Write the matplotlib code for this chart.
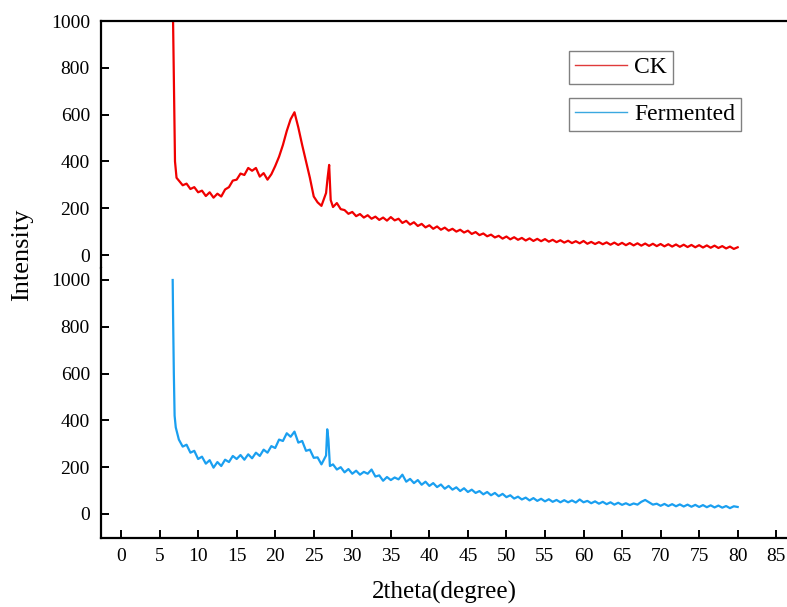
import matplotlib
matplotlib.use("Agg")
import matplotlib.pyplot as plt
import numpy as np

plt.rcParams['font.family'] = ['Liberation Serif', 'DejaVu Serif']

# CK (upper trace)
ck_start_x = [6.75, 6.8, 6.9, 7.0, 7.2]
ck_start_y = [1000, 880, 620, 400, 330]
ck_body1_y = [318, 298, 305, 282, 290, 268, 275, 252, 268, 245,   # 7.5 - 12.0
              262, 250, 280, 290, 318, 322, 348, 342, 372, 360,   # 12.5 - 17.0
              372, 335, 350, 322, 345, 380, 420, 470, 530, 580,   # 17.5 - 22.0
              610, 545, 470, 400, 330, 250, 225, 210]             # 22.5 - 26.0
ck_spike_x = [26.6, 26.8, 27.0, 27.2]
ck_spike_y = [265, 330, 385, 235]
ck_body2_y = [205, 222, 196, 192, 176, 184, 166, 175, 160, 170,   # 27.5 - 32.0
              155, 164, 150, 160, 147, 162, 148, 155, 137, 146,   # 32.5 - 37.0
              130, 140, 124, 133, 118, 127, 112, 122, 108, 117,   # 37.5 - 42.0
              104, 112, 100, 108, 96, 104, 90, 98, 85, 92,        # 42.5 - 47.0
              80, 87, 75, 82, 70, 79, 67, 76, 65, 73,             # 47.5 - 52.0
              62, 71, 60, 69, 59, 68, 57, 65, 55, 63,             # 52.5 - 57.0
              53, 61, 51, 59, 50, 60, 48, 56, 47, 55,             # 57.5 - 62.0
              46, 54, 44, 53, 43, 52, 42, 51, 41, 50,             # 62.5 - 67.0
              40, 49, 39, 48, 38, 47, 37, 46, 36, 45,             # 67.5 - 72.0
              35, 44, 34, 43, 33, 42, 32, 41, 31, 40,             # 72.5 - 77.0
              30, 38, 28, 36, 26, 33]                             # 77.5 - 80.0

# Fermented (lower trace)
fe_start_x = [6.7, 6.75, 6.85, 6.95, 7.1]
fe_start_y = [1000, 850, 600, 420, 370]
fe_body1_y = [318, 288, 296, 262, 270, 235, 245, 215, 230, 198,   # 7.5 - 12.0
              222, 205, 232, 222, 248, 235, 252, 232, 255, 238,   # 12.5 - 17.0
              262, 248, 275, 262, 290, 282, 318, 312, 345, 330,   # 17.5 - 22.0
              352, 305, 312, 270, 275, 240, 242, 212]             # 22.5 - 26.0
fe_spike_x = [26.6, 26.75, 26.9, 27.1]
fe_spike_y = [250, 362, 320, 205]
fe_body2_y = [212, 190, 200, 178, 192, 172, 185, 168, 180, 172,   # 27.5 - 32.0
              190, 160, 165, 142, 158, 145, 156, 148, 168, 138,   # 32.5 - 37.0
              150, 132, 145, 125, 138, 120, 132, 115, 126, 108,   # 37.5 - 42.0
              120, 104, 114, 98, 110, 94, 104, 90, 98, 84,        # 42.5 - 47.0
              94, 80, 90, 76, 86, 72, 80, 66, 74, 62,             # 47.5 - 52.0
              70, 58, 68, 56, 65, 54, 63, 52, 60, 50,             # 52.5 - 57.0
              59, 50, 58, 49, 62, 50, 56, 46, 54, 44,             # 57.5 - 62.0
              52, 42, 50, 40, 48, 39, 46, 38, 45, 40,             # 62.5 - 67.0
              52, 60, 50, 40, 44, 35, 43, 34, 42, 33,             # 67.5 - 72.0
              41, 32, 40, 31, 39, 30, 38, 29, 37, 28,             # 72.5 - 77.0
              36, 27, 34, 25, 33, 30]                             # 77.5 - 80.0

grid1 = np.arange(7.5, 26.01, 0.5)
grid2 = np.arange(27.5, 80.01, 0.5)

ck_x = np.concatenate([ck_start_x, grid1, ck_spike_x, grid2])
ck_y = np.concatenate([ck_start_y, ck_body1_y, ck_spike_y, ck_body2_y])
fe_x = np.concatenate([fe_start_x, grid1, fe_spike_x, grid2])
fe_y = np.concatenate([fe_start_y, fe_body1_y, fe_spike_y, fe_body2_y])

x_ticks = np.arange(0, 86, 5)
y_ticks = [0, 200, 400, 600, 800, 1000]

W, H = 787, 607
fig = plt.figure(figsize=(W / 100, H / 100), dpi=100)
left = 101 / W
right = 1.0
split = 1 - 267.5 / H
ax_top = fig.add_axes([left, split, right - left, (1 - 21 / H) - split])
ax_bot = fig.add_axes([left, 1 - 538 / H, right - left, split - (1 - 538 / H)])

ax_top.plot(ck_x, ck_y, color='#f00000', lw=1.6)
ax_bot.plot(fe_x, fe_y, color='#1a9ff0', lw=1.6)

for ax in (ax_top, ax_bot):
    ax.set_xlim(-2.6, 86.4)
    ax.set_yticks(y_ticks)
    ax.spines['right'].set_visible(False)
    ax.spines['left'].set_linewidth(1.6)
    ax.tick_params(axis='both', direction='in', length=6, width=1.4,
                   labelsize=14, pad=8)

ax_top.set_ylim(-53.4, 1000)
ax_top.spines['bottom'].set_visible(False)
ax_top.spines['top'].set_linewidth(1.6)
ax_top.tick_params(axis='x', bottom=False, labelbottom=False)

ax_bot.set_ylim(-102.6, 1053.4)
ax_bot.spines['top'].set_visible(False)
ax_bot.spines['bottom'].set_linewidth(1.6)
ax_bot.set_xticks(x_ticks)
ax_bot.tick_params(axis='x', pad=7)

ax_bot.set_xlabel('2theta(degree)', fontsize=18, labelpad=12)
fig.text(22 / W, 1 - 255 / H, 'Intensity', rotation=90, fontsize=19,
         ha='center', va='center')

leg_kw = dict(loc='upper left', bbox_transform=fig.transFigure, fontsize=17,
              frameon=True, fancybox=False, framealpha=1, edgecolor='#808080',
              borderaxespad=0, borderpad=0.25, handlelength=2.2,
              handletextpad=0.3)
h_ck, = ax_top.plot([], [], color='#e03a3a', lw=1)
h_fe, = ax_top.plot([], [], color='#3aa8e0', lw=1)
leg1 = ax_top.legend(handles=[h_ck], labels=['CK'],
                     bbox_to_anchor=(569 / W, 1 - 51 / H), **leg_kw)
leg1.get_frame().set_linewidth(1)
ax_top.add_artist(leg1)
leg2 = ax_top.legend(handles=[h_fe], labels=['Fermented'],
                     bbox_to_anchor=(569 / W, 1 - 98 / H), **leg_kw)
leg2.get_frame().set_linewidth(1)

fig.savefig('out.png', dpi=100)
